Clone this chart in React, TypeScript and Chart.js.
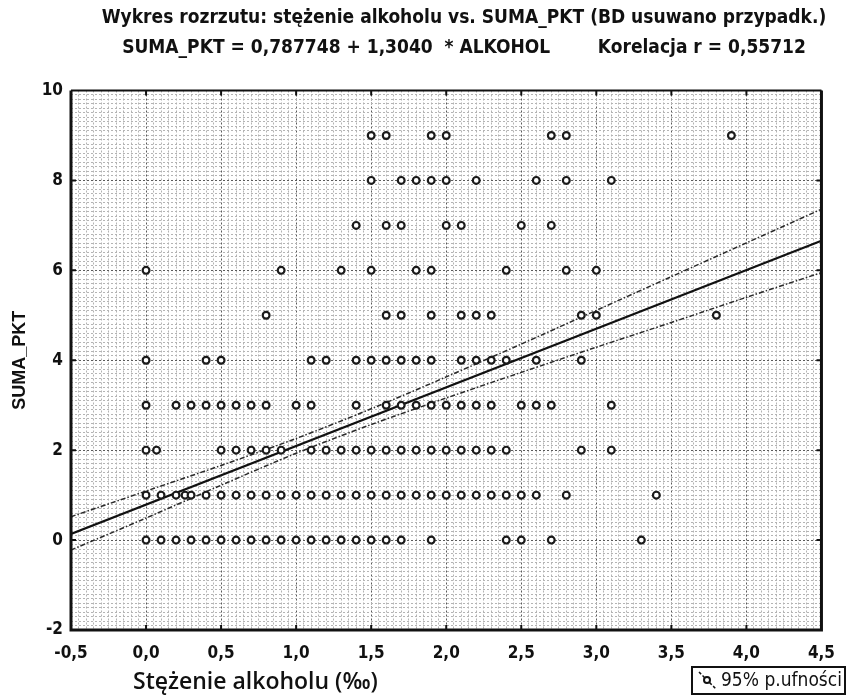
import React, { useEffect, useRef } from "react";
import { Chart, registerables } from "chart.js";

Chart.register(...registerables);

// ---------- data ----------
const titleLine1 = "Wykres rozrzutu: stężenie alkoholu vs. SUMA_PKT (BD usuwano przypadk.)";
const titleLine2 = "SUMA_PKT = 0,787748 + 1,3040  * ALKOHOL        Korelacja r = 0,55712";
const xAxisTitle = "Stężenie alkoholu (‰)";
const yAxisTitle = "SUMA_PKT";
const legendLabel = "95% p.ufności";

const sumaLevels = [0, 1, 2, 3, 4, 5, 6, 7, 8, 9];
const alcoholAt0 = [0.0, 0.1, 0.2, 0.3, 0.4, 0.5, 0.6, 0.7, 0.8, 0.9, 1.0, 1.1, 1.2, 1.3, 1.4, 1.5, 1.6, 1.7, 1.9, 2.4, 2.5, 2.7, 3.3];
const alcoholAt1 = [0.0, 0.1, 0.2, 0.26, 0.3, 0.4, 0.5, 0.6, 0.7, 0.8, 0.9, 1.0, 1.1, 1.2, 1.3, 1.4, 1.5, 1.6, 1.7, 1.8, 1.9, 2.0, 2.1, 2.2, 2.3, 2.4, 2.5, 2.6, 2.8, 3.4];
const alcoholAt2 = [0.0, 0.07, 0.5, 0.6, 0.7, 0.8, 0.9, 1.1, 1.2, 1.3, 1.4, 1.5, 1.6, 1.7, 1.8, 1.9, 2.0, 2.1, 2.2, 2.3, 2.4, 2.9, 3.1];
const alcoholAt3 = [0.0, 0.2, 0.3, 0.4, 0.5, 0.6, 0.7, 0.8, 1.0, 1.1, 1.4, 1.6, 1.7, 1.8, 1.9, 2.0, 2.1, 2.2, 2.3, 2.5, 2.6, 2.7, 3.1];
const alcoholAt4 = [0.0, 0.4, 0.5, 1.1, 1.2, 1.4, 1.5, 1.6, 1.7, 1.8, 1.9, 2.1, 2.2, 2.3, 2.4, 2.6, 2.9];
const alcoholAt5 = [0.8, 1.6, 1.7, 1.9, 2.1, 2.2, 2.3, 2.9, 3.0, 3.8];
const alcoholAt6 = [0.0, 0.9, 1.3, 1.5, 1.8, 1.9, 2.4, 2.8, 3.0];
const alcoholAt7 = [1.4, 1.6, 1.7, 2.0, 2.1, 2.5, 2.7];
const alcoholAt8 = [1.5, 1.7, 1.8, 1.9, 2.0, 2.2, 2.6, 2.8, 3.1];
const alcoholAt9 = [1.5, 1.6, 1.9, 2.0, 2.7, 2.8, 3.9];
const alcoholByLevel = [alcoholAt0, alcoholAt1, alcoholAt2, alcoholAt3, alcoholAt4, alcoholAt5, alcoholAt6, alcoholAt7, alcoholAt8, alcoholAt9];

// regression line endpoints (SUMA_PKT = 0,787748 + 1,3040 * ALKOHOL)
const fitX = [-0.5, 4.5];
const fitY = [0.136, 6.656];

// 95% confidence band
const bandX = [-0.5, 0.0, 0.5, 1.0, 1.5, 2.0, 2.5, 3.0, 3.5, 4.0, 4.5];
const bandUpper = [0.52, 1.09, 1.66, 2.26, 2.92, 3.63, 4.36, 5.11, 5.86, 6.61, 7.36];
const bandLower = [-0.22, 0.49, 1.22, 1.93, 2.57, 3.16, 3.73, 4.29, 4.84, 5.40, 5.95];

// axes
const xMin = -0.5;
const xMax = 4.5;
const xMajorStep = 0.5;
const xMinorStep = 0.05;
const yMin = -2;
const yMax = 10;
const yMajorStep = 2;
const yMinorStep = 0.1;

// ---------- styling ----------
const NARROW = '"Liberation Sans Narrow", "DejaVu Sans Condensed", "Arial Narrow", sans-serif';
const INK = "#111111";

const isMultiple = (v: number, step: number) => Math.abs(v / step - Math.round(v / step)) < 1e-6;

const decorPlugin = {
  id: "decor",
  afterDraw(chart: any) {
    const { ctx, chartArea } = chart;
    const { left, right, top, bottom } = chartArea;
    const xs = chart.scales.x;
    const ys = chart.scales.y;
    ctx.save();
    // titles
    ctx.fillStyle = INK;
    ctx.textBaseline = "middle";
    ctx.textAlign = "center";
    ctx.font = `bold 19px ${NARROW}`;
    ctx.fillText(titleLine1, 464, 18);
    ctx.fillText(titleLine2, 464, 48);
    // frame
    ctx.strokeStyle = INK;
    ctx.setLineDash([]);
    ctx.lineWidth = 2;
    ctx.beginPath();
    ctx.moveTo(left, top);
    ctx.lineTo(right, top);
    ctx.stroke();
    ctx.lineWidth = 3;
    ctx.beginPath();
    ctx.moveTo(left, top);
    ctx.lineTo(left, bottom);
    ctx.lineTo(right, bottom);
    ctx.lineTo(right, top);
    ctx.stroke();
    // inward tick marks
    ctx.lineWidth = 2;
    for (let v = xMin + xMajorStep; v < xMax - 1e-6; v += xMajorStep) {
      const px = xs.getPixelForValue(v);
      ctx.beginPath();
      ctx.moveTo(px, bottom);
      ctx.lineTo(px, bottom - 5);
      ctx.moveTo(px, top);
      ctx.lineTo(px, top + 5);
      ctx.stroke();
    }
    for (let v = yMin + yMajorStep; v < yMax - 1e-6; v += yMajorStep) {
      const py = ys.getPixelForValue(v);
      ctx.beginPath();
      ctx.moveTo(left, py);
      ctx.lineTo(left + 5, py);
      ctx.moveTo(right, py);
      ctx.lineTo(right - 5, py);
      ctx.stroke();
    }
    // x axis title
    ctx.fillStyle = INK;
    ctx.font = '600 23px "Open Sans", sans-serif';
    ctx.textBaseline = "middle";
    ctx.textAlign = "left";
    ctx.fillText(xAxisTitle, 133, 682);
    // legend box
    const bx = 692, by = 667, bw = 153, bh = 27;
    ctx.fillStyle = "#ffffff";
    ctx.fillRect(bx, by, bw, bh);
    ctx.lineWidth = 2;
    ctx.strokeStyle = INK;
    ctx.strokeRect(bx, by, bw, bh);
    ctx.lineWidth = 1.5;
    ctx.setLineDash([3, 2]);
    ctx.beginPath();
    ctx.moveTo(699, 672);
    ctx.lineTo(716, 689);
    ctx.stroke();
    ctx.setLineDash([]);
    ctx.lineWidth = 2;
    ctx.beginPath();
    ctx.arc(707, 680, 3, 0, Math.PI * 2);
    ctx.fillStyle = "#fff";
    ctx.fill();
    ctx.stroke();
    ctx.fillStyle = INK;
    ctx.font = `19px ${NARROW}`;
    ctx.textAlign = "left";
    ctx.fillText(legendLabel, 721, 681);
    ctx.restore();
  },
};

export default function App() {
  const canvasRef = useRef<HTMLCanvasElement | null>(null);

  useEffect(() => {
    const canvas = canvasRef.current;
    if (!canvas) return;

    const scatterPoints: { x: number; y: number }[] = [];
    sumaLevels.forEach((level, i) => {
      alcoholByLevel[i].forEach((a) => scatterPoints.push({ x: a, y: level }));
    });

    const chart = new Chart(canvas, {
      type: "scatter",
      data: {
        datasets: [
          {
            label: "SUMA_PKT",
            data: scatterPoints,
            pointStyle: "circle",
            pointRadius: 3.4,
            borderWidth: 2.2,
            borderColor: "#1a1a1a",
            backgroundColor: "#ffffff",
          },
          {
            label: "Regresja",
            data: fitX.map((x, i) => ({ x, y: fitY[i] })),
            showLine: true,
            pointRadius: 0,
            borderColor: "#111111",
            borderWidth: 2.2,
          },
          {
            label: "95% górna",
            data: bandX.map((x, i) => ({ x, y: bandUpper[i] })),
            showLine: true,
            pointRadius: 0,
            borderColor: "#2a2a2a",
            borderWidth: 1.5,
            borderDash: [5, 2, 1.5, 2],
            tension: 0.3,
          },
          {
            label: "95% dolna",
            data: bandX.map((x, i) => ({ x, y: bandLower[i] })),
            showLine: true,
            pointRadius: 0,
            borderColor: "#2a2a2a",
            borderWidth: 1.5,
            borderDash: [5, 2, 1.5, 2],
            tension: 0.3,
          },
        ],
      },
      options: {
        animation: false,
        responsive: false,
        maintainAspectRatio: false,
        layout: { padding: { left: 0, right: 15, top: 90.5, bottom: 0 } },
        plugins: {
          legend: { display: false },
          tooltip: { enabled: false },
          title: { display: false },
        },
        scales: {
          x: {
            type: "linear",
            min: xMin,
            max: xMax,
            afterFit: (scale: any) => {
              scale.height = 66;
            },
            border: { display: false, dash: [2, 2] },
            grid: {
              drawTicks: false,
              color: (c: any) => (isMultiple(c.tick.value, xMajorStep) ? "#5a5a5a" : "#b4b4b4"),
              lineWidth: 1,
            },
            ticks: {
              stepSize: xMinorStep,
              autoSkip: false,
              maxRotation: 0,
              padding: 13,
              color: INK,
              font: { family: NARROW, size: 17, weight: "bold" },
              callback: (v: any) => {
                const n = Number(v);
                return isMultiple(n, xMajorStep) ? n.toFixed(1).replace(".", ",") : "";
              },
            },
          },
          y: {
            type: "linear",
            min: yMin,
            max: yMax,
            afterFit: (scale: any) => {
              scale.width = 71;
            },
            border: { display: false, dash: [2, 2] },
            grid: {
              drawTicks: false,
              color: (c: any) => (isMultiple(c.tick.value, yMajorStep) ? "#5a5a5a" : "#b4b4b4"),
              lineWidth: 1,
            },
            title: {
              display: true,
              text: yAxisTitle,
              color: INK,
              font: { family: '"Liberation Sans", Arial, sans-serif', size: 18, weight: "bold" },
              padding: { top: 9, bottom: 0 },
            },
            ticks: {
              stepSize: yMinorStep,
              autoSkip: false,
              padding: 8,
              color: INK,
              font: { family: NARROW, size: 17, weight: "bold" },
              callback: (v: any) => {
                const n = Number(v);
                return isMultiple(n, yMajorStep) ? String(Math.round(n)) : "";
              },
            },
          },
        },
      },
      plugins: [decorPlugin],
    } as any);

    return () => chart.destroy();
  }, []);

  return (
    <div style={{ position: "absolute", left: 0, top: 0, width: 848, height: 696, background: "#fff" }}>
      <canvas ref={canvasRef} width={848} height={696} style={{ display: "block" }} />
    </div>
  );
}
